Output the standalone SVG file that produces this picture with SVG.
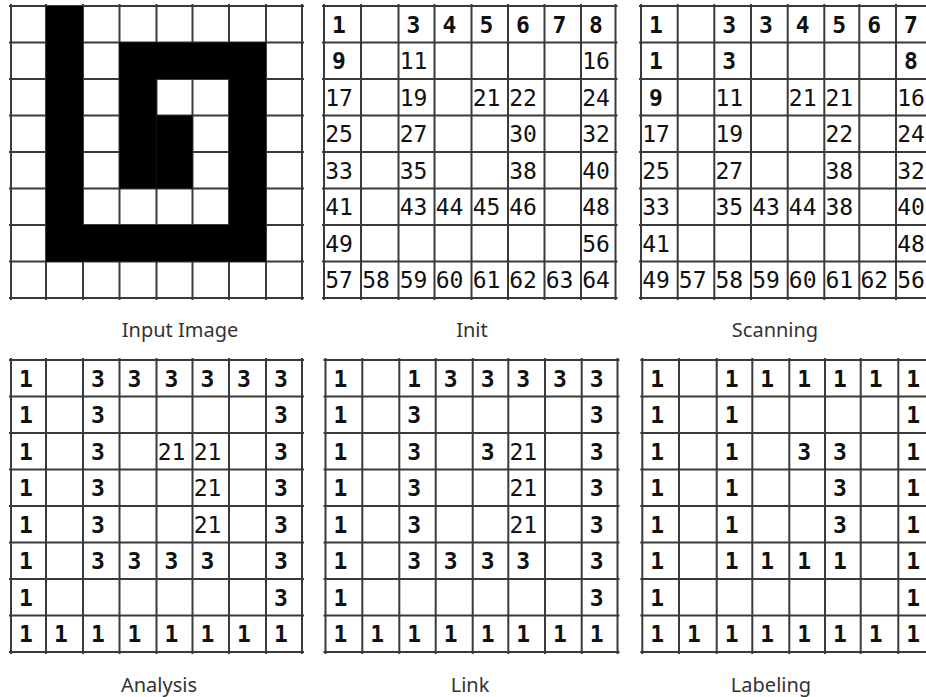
<svg xmlns="http://www.w3.org/2000/svg" width="926" height="697" viewBox="0 0 926 697">
<style>
.g{fill:none;stroke:#3a3a3a;stroke-width:2}
.b{fill:#000}
.n{font-family:"DejaVu Sans Mono","Liberation Mono",monospace;font-size:23px;font-weight:bold;text-anchor:middle;fill:#111}
.m{font-family:"DejaVu Sans Mono","Liberation Mono",monospace;font-size:23px;font-weight:normal;text-anchor:middle;fill:#111}
.lbl{font-family:"Noto Sans","Open Sans",sans-serif;font-size:20px;fill:#333;text-anchor:middle}
</style>
<rect width="926" height="697" fill="#fff"/>

<g id="input-image">
<path class="g" d="M11 4V300M46 4V300M83 4V300M119.5 4V300M156.5 4V300M192.5 4V300M229 4V300M266 4V300M302 4V300M9 6H304M9 42.5H304M9 79H304M9 115.5H304M9 152H304M9 188.5H304M9 225H304M9 261.5H304M9 298H304"/>
<rect class="b" x="46" y="6" width="37" height="255.5"/>
<rect class="b" x="46" y="225" width="220" height="36.5"/>
<rect class="b" x="119.5" y="42.5" width="146.5" height="36.5"/>
<rect class="b" x="229" y="42.5" width="37" height="219"/>
<rect class="b" x="119.5" y="42.5" width="37" height="146"/>
<rect class="b" x="156.5" y="115.5" width="36" height="73"/>
<text class="lbl" x="180" y="337">Input Image</text>
</g>

<g id="init">
<path class="g" d="M324 4V300M361 4V300M398.5 4V300M434.5 4V300M471.5 4V300M508 4V300M544.5 4V300M581 4V300M615.5 4V300M322 6H617.5M322 42.5H617.5M322 79H617.5M322 115.5H617.5M322 152H617.5M322 188.5H617.5M322 225H617.5M322 261.5H617.5M322 298H617.5"/>
<text class="n" x="339" y="32.5">1</text><text class="n" x="413.5" y="32.5">3</text><text class="n" x="449.5" y="32.5">4</text><text class="n" x="486.5" y="32.5">5</text><text class="n" x="523" y="32.5">6</text><text class="n" x="559.5" y="32.5">7</text><text class="n" x="596" y="32.5">8</text>
<text class="n" x="339" y="69">9</text><text class="m" x="413.5" y="69">11</text><text class="m" x="596" y="69">16</text>
<text class="m" x="339" y="105.5">17</text><text class="m" x="413.5" y="105.5">19</text><text class="m" x="486.5" y="105.5">21</text><text class="m" x="523" y="105.5">22</text><text class="m" x="596" y="105.5">24</text>
<text class="m" x="339" y="142">25</text><text class="m" x="413.5" y="142">27</text><text class="m" x="523" y="142">30</text><text class="m" x="596" y="142">32</text>
<text class="m" x="339" y="178.5">33</text><text class="m" x="413.5" y="178.5">35</text><text class="m" x="523" y="178.5">38</text><text class="m" x="596" y="178.5">40</text>
<text class="m" x="339" y="215">41</text><text class="m" x="413.5" y="215">43</text><text class="m" x="449.5" y="215">44</text><text class="m" x="486.5" y="215">45</text><text class="m" x="523" y="215">46</text><text class="m" x="596" y="215">48</text>
<text class="m" x="339" y="251.5">49</text><text class="m" x="596" y="251.5">56</text>
<text class="m" x="339" y="288">57</text><text class="m" x="376" y="288">58</text><text class="m" x="413.5" y="288">59</text><text class="m" x="449.5" y="288">60</text><text class="m" x="486.5" y="288">61</text><text class="m" x="523" y="288">62</text><text class="m" x="559.5" y="288">63</text><text class="m" x="596" y="288">64</text>
<text class="lbl" x="472" y="337">Init</text>
</g>

<g id="scanning">
<path class="g" d="M641 4V300M677.7 4V300M714.3 4V300M751 4V300M787.7 4V300M824.3 4V300M859.3 4V300M896 4V300M639 6H934M639 42.5H934M639 79H934M639 115.5H934M639 152H934M639 188.5H934M639 225H934M639 261.5H934M639 298H934"/>
<text class="n" x="656" y="32.5">1</text><text class="n" x="729.3" y="32.5">3</text><text class="n" x="766" y="32.5">3</text><text class="n" x="802.7" y="32.5">4</text><text class="n" x="839.3" y="32.5">5</text><text class="n" x="874.3" y="32.5">6</text><text class="n" x="911" y="32.5">7</text>
<text class="n" x="656" y="69">1</text><text class="n" x="729.3" y="69">3</text><text class="n" x="911" y="69">8</text>
<text class="n" x="656" y="105.5">9</text><text class="m" x="729.3" y="105.5">11</text><text class="m" x="802.7" y="105.5">21</text><text class="m" x="839.3" y="105.5">21</text><text class="m" x="911" y="105.5">16</text>
<text class="m" x="656" y="142">17</text><text class="m" x="729.3" y="142">19</text><text class="m" x="839.3" y="142">22</text><text class="m" x="911" y="142">24</text>
<text class="m" x="656" y="178.5">25</text><text class="m" x="729.3" y="178.5">27</text><text class="m" x="839.3" y="178.5">38</text><text class="m" x="911" y="178.5">32</text>
<text class="m" x="656" y="215">33</text><text class="m" x="729.3" y="215">35</text><text class="m" x="766" y="215">43</text><text class="m" x="802.7" y="215">44</text><text class="m" x="839.3" y="215">38</text><text class="m" x="911" y="215">40</text>
<text class="m" x="656" y="251.5">41</text><text class="m" x="911" y="251.5">48</text>
<text class="m" x="656" y="288">49</text><text class="m" x="692.7" y="288">57</text><text class="m" x="729.3" y="288">58</text><text class="m" x="766" y="288">59</text><text class="m" x="802.7" y="288">60</text><text class="m" x="839.3" y="288">61</text><text class="m" x="874.3" y="288">62</text><text class="m" x="911" y="288">56</text>
<text class="lbl" x="775" y="337">Scanning</text>
</g>

<g id="analysis">
<path class="g" d="M11 358V654M46 358V654M83 358V654M119.5 358V654M156.5 358V654M192.5 358V654M229 358V654M266 358V654M302 358V654M9 360H304M9 396.5H304M9 433H304M9 469.5H304M9 506H304M9 542.5H304M9 579H304M9 615.5H304M9 652H304"/>
<text class="n" x="26" y="386.5">1</text><text class="n" x="98" y="386.5">3</text><text class="n" x="134.5" y="386.5">3</text><text class="n" x="171.5" y="386.5">3</text><text class="n" x="207.5" y="386.5">3</text><text class="n" x="244" y="386.5">3</text><text class="n" x="281" y="386.5">3</text>
<text class="n" x="26" y="423">1</text><text class="n" x="98" y="423">3</text><text class="n" x="281" y="423">3</text>
<text class="n" x="26" y="459.5">1</text><text class="n" x="98" y="459.5">3</text><text class="m" x="171.5" y="459.5">21</text><text class="m" x="207.5" y="459.5">21</text><text class="n" x="281" y="459.5">3</text>
<text class="n" x="26" y="496">1</text><text class="n" x="98" y="496">3</text><text class="m" x="207.5" y="496">21</text><text class="n" x="281" y="496">3</text>
<text class="n" x="26" y="532.5">1</text><text class="n" x="98" y="532.5">3</text><text class="m" x="207.5" y="532.5">21</text><text class="n" x="281" y="532.5">3</text>
<text class="n" x="26" y="569">1</text><text class="n" x="98" y="569">3</text><text class="n" x="134.5" y="569">3</text><text class="n" x="171.5" y="569">3</text><text class="n" x="207.5" y="569">3</text><text class="n" x="281" y="569">3</text>
<text class="n" x="26" y="605.5">1</text><text class="n" x="281" y="605.5">3</text>
<text class="n" x="26" y="642">1</text><text class="n" x="61" y="642">1</text><text class="n" x="98" y="642">1</text><text class="n" x="134.5" y="642">1</text><text class="n" x="171.5" y="642">1</text><text class="n" x="207.5" y="642">1</text><text class="n" x="244" y="642">1</text><text class="n" x="281" y="642">1</text>
<text class="lbl" x="159" y="692">Analysis</text>
</g>

<g id="link">
<path class="g" d="M325.5 358V654M362.3 358V654M399.3 358V654M435.7 358V654M472.7 358V654M508.3 358V654M545 358V654M581.7 358V654M617.5 358V654M323.5 360H619.5M323.5 396.5H619.5M323.5 433H619.5M323.5 469.5H619.5M323.5 506H619.5M323.5 542.5H619.5M323.5 579H619.5M323.5 615.5H619.5M323.5 652H619.5"/>
<text class="n" x="340.5" y="386.5">1</text><text class="n" x="414.3" y="386.5">1</text><text class="n" x="450.7" y="386.5">3</text><text class="n" x="487.7" y="386.5">3</text><text class="n" x="523.3" y="386.5">3</text><text class="n" x="560" y="386.5">3</text><text class="n" x="596.7" y="386.5">3</text>
<text class="n" x="340.5" y="423">1</text><text class="n" x="414.3" y="423">3</text><text class="n" x="596.7" y="423">3</text>
<text class="n" x="340.5" y="459.5">1</text><text class="n" x="414.3" y="459.5">3</text><text class="n" x="487.7" y="459.5">3</text><text class="m" x="523.3" y="459.5">21</text><text class="n" x="596.7" y="459.5">3</text>
<text class="n" x="340.5" y="496">1</text><text class="n" x="414.3" y="496">3</text><text class="m" x="523.3" y="496">21</text><text class="n" x="596.7" y="496">3</text>
<text class="n" x="340.5" y="532.5">1</text><text class="n" x="414.3" y="532.5">3</text><text class="m" x="523.3" y="532.5">21</text><text class="n" x="596.7" y="532.5">3</text>
<text class="n" x="340.5" y="569">1</text><text class="n" x="414.3" y="569">3</text><text class="n" x="450.7" y="569">3</text><text class="n" x="487.7" y="569">3</text><text class="n" x="523.3" y="569">3</text><text class="n" x="596.7" y="569">3</text>
<text class="n" x="340.5" y="605.5">1</text><text class="n" x="596.7" y="605.5">3</text>
<text class="n" x="340.5" y="642">1</text><text class="n" x="377.3" y="642">1</text><text class="n" x="414.3" y="642">1</text><text class="n" x="450.7" y="642">1</text><text class="n" x="487.7" y="642">1</text><text class="n" x="523.3" y="642">1</text><text class="n" x="560" y="642">1</text><text class="n" x="596.7" y="642">1</text>
<text class="lbl" x="470" y="692">Link</text>
</g>

<g id="labeling">
<path class="g" d="M642.3 358V654M679 358V654M716.7 358V654M752.3 358V654M789.3 358V654M825 358V654M860.7 358V654M898.3 358V654M640.3 360H934M640.3 396.5H934M640.3 433H934M640.3 469.5H934M640.3 506H934M640.3 542.5H934M640.3 579H934M640.3 615.5H934M640.3 652H934"/>
<text class="n" x="657.3" y="386.5">1</text><text class="n" x="731.7" y="386.5">1</text><text class="n" x="767.3" y="386.5">1</text><text class="n" x="804.3" y="386.5">1</text><text class="n" x="840" y="386.5">1</text><text class="n" x="875.7" y="386.5">1</text><text class="n" x="913.3" y="386.5">1</text>
<text class="n" x="657.3" y="423">1</text><text class="n" x="731.7" y="423">1</text><text class="n" x="913.3" y="423">1</text>
<text class="n" x="657.3" y="459.5">1</text><text class="n" x="731.7" y="459.5">1</text><text class="n" x="804.3" y="459.5">3</text><text class="n" x="840" y="459.5">3</text><text class="n" x="913.3" y="459.5">1</text>
<text class="n" x="657.3" y="496">1</text><text class="n" x="731.7" y="496">1</text><text class="n" x="840" y="496">3</text><text class="n" x="913.3" y="496">1</text>
<text class="n" x="657.3" y="532.5">1</text><text class="n" x="731.7" y="532.5">1</text><text class="n" x="840" y="532.5">3</text><text class="n" x="913.3" y="532.5">1</text>
<text class="n" x="657.3" y="569">1</text><text class="n" x="731.7" y="569">1</text><text class="n" x="767.3" y="569">1</text><text class="n" x="804.3" y="569">1</text><text class="n" x="840" y="569">1</text><text class="n" x="913.3" y="569">1</text>
<text class="n" x="657.3" y="605.5">1</text><text class="n" x="913.3" y="605.5">1</text>
<text class="n" x="657.3" y="642">1</text><text class="n" x="694" y="642">1</text><text class="n" x="731.7" y="642">1</text><text class="n" x="767.3" y="642">1</text><text class="n" x="804.3" y="642">1</text><text class="n" x="840" y="642">1</text><text class="n" x="875.7" y="642">1</text><text class="n" x="913.3" y="642">1</text>
<text class="lbl" x="771" y="692">Labeling</text>
</g>
</svg>
